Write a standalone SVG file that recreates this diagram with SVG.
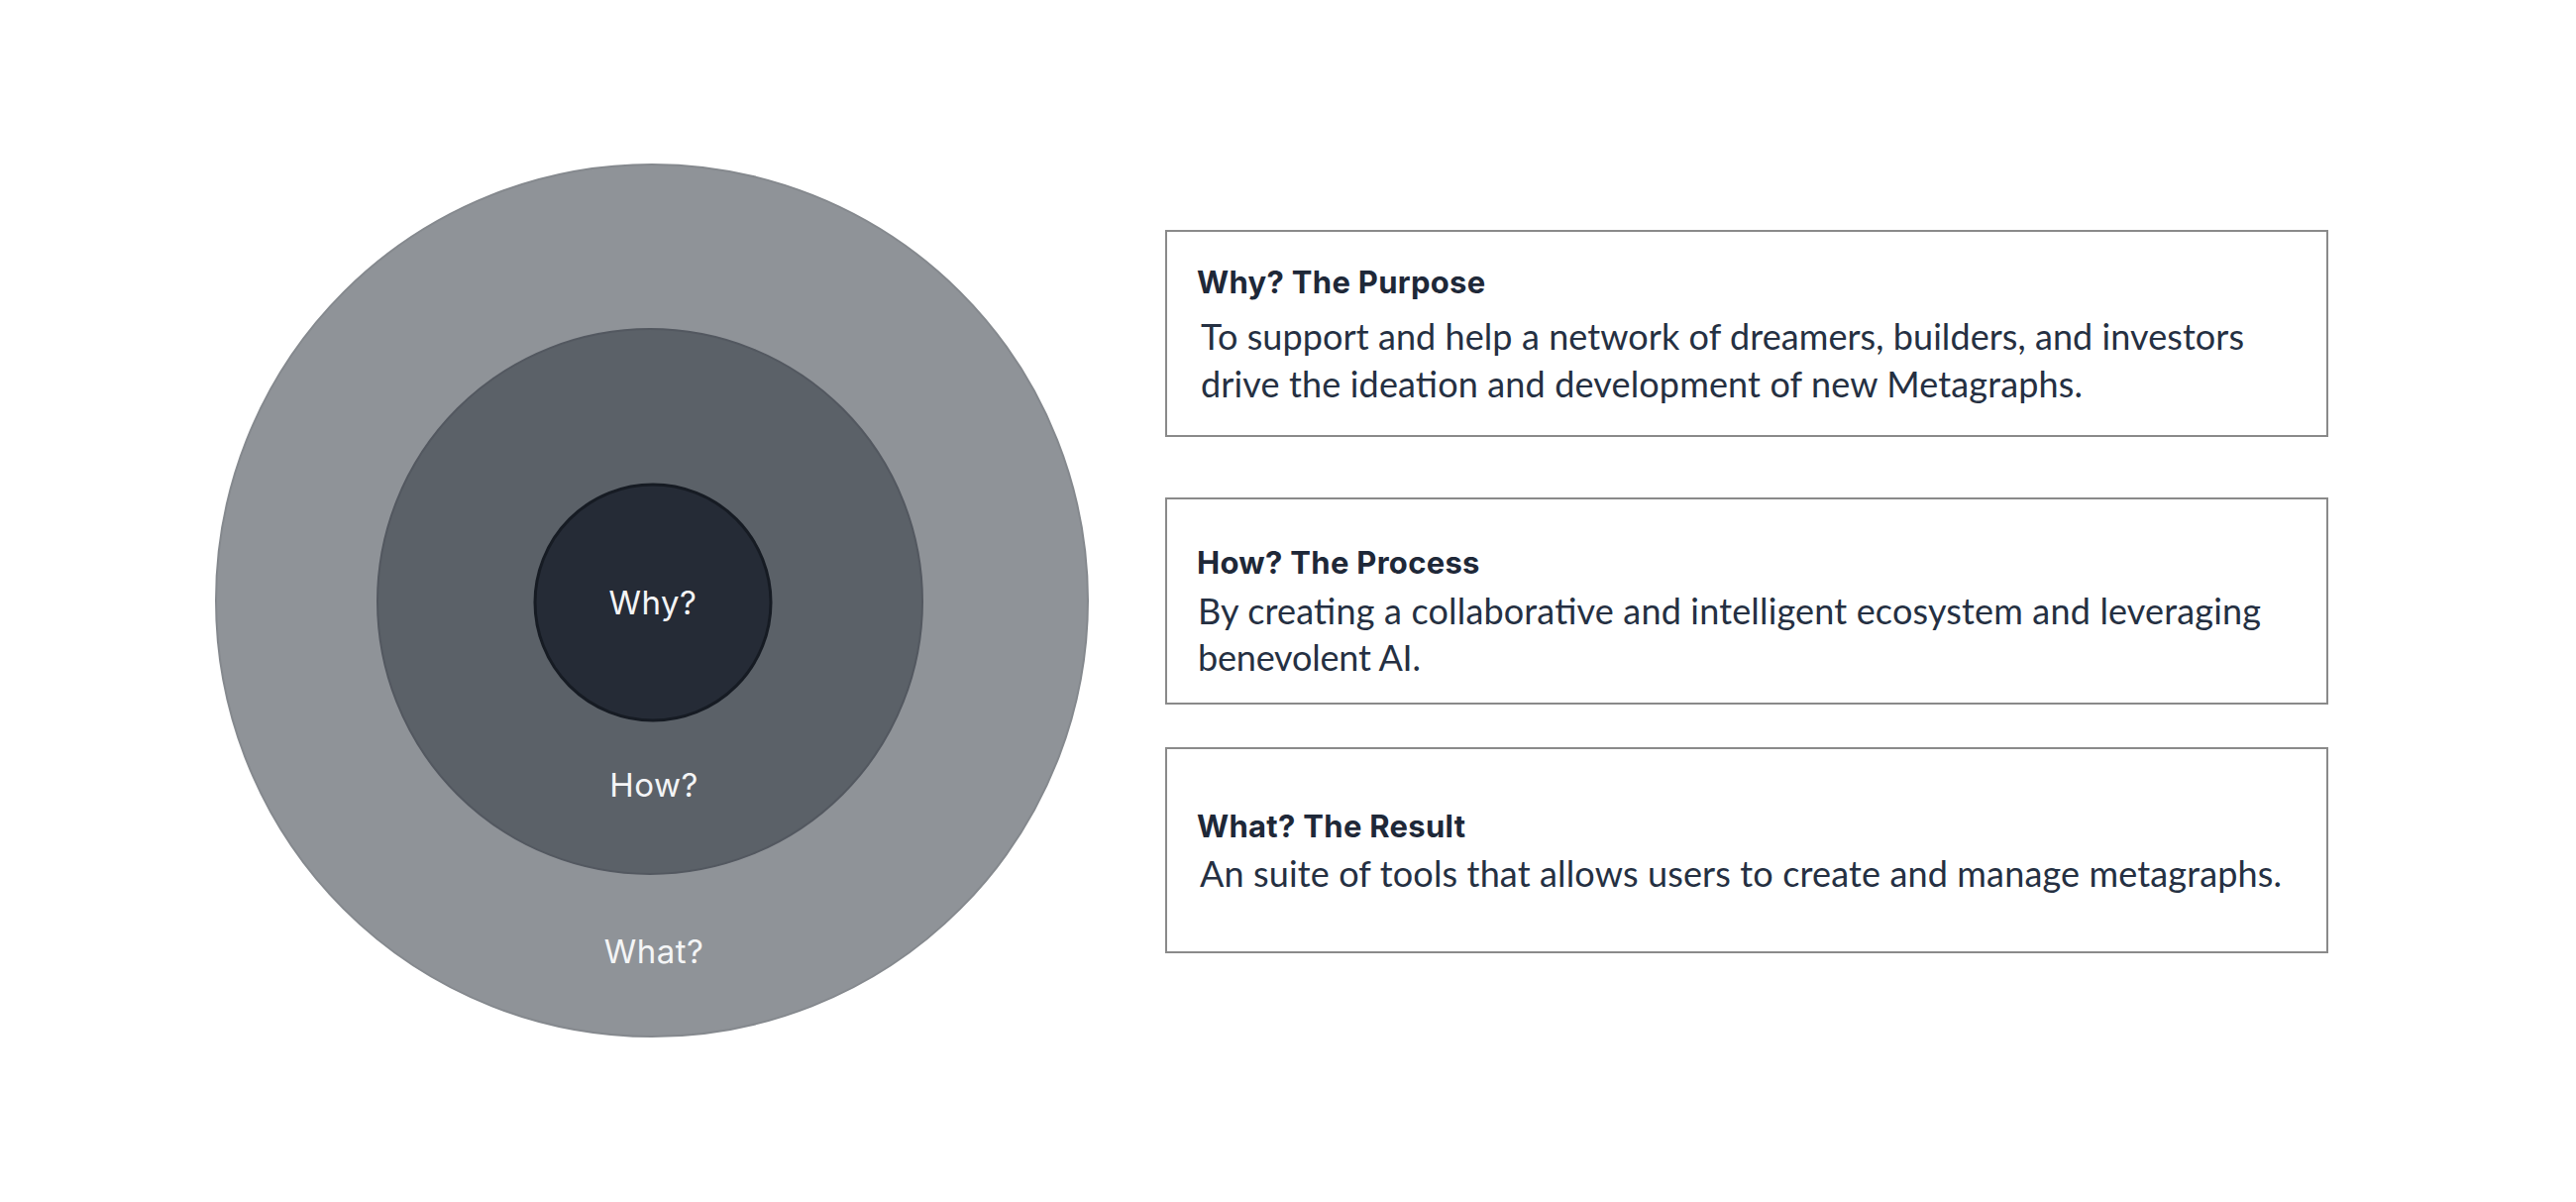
<svg xmlns="http://www.w3.org/2000/svg" width="2600" height="1213" viewBox="0 0 2600 1213">
<style>
.lbl{font-family:Inter,"Open Sans","Liberation Sans",sans-serif;font-size:33px;fill:#f4f5f6;text-anchor:middle;letter-spacing:0.5px}
.box{fill:#ffffff;stroke:#8a8a8a;stroke-width:2}
.ttl{font-family:Inter,"Open Sans","Liberation Sans",sans-serif;font-weight:700;font-size:31px;fill:#1e2838;letter-spacing:0.3px}
.bdy{font-family:Lato,"Open Sans","Liberation Sans",sans-serif;font-size:36px;fill:#253042}
</style>
<rect width="2600" height="1213" fill="#ffffff"/>
<g id="circle-what">
<circle cx="658" cy="606" r="440" fill="#8f9398" stroke="#85898e" stroke-width="2"/>
<text class="lbl" x="660" y="972">What?</text>
</g>
<g id="circle-how">
<circle cx="656" cy="607" r="275" fill="#5b6168" stroke="#535860" stroke-width="2"/>
<text class="lbl" x="660" y="804">How?</text>
</g>
<g id="circle-why">
<circle cx="659" cy="608" r="119" fill="#252b36" stroke="#161b23" stroke-width="3"/>
<text class="lbl" x="659" y="620">Why?</text>
</g>
<g id="connectors"></g>
<g id="box-why">
<rect class="box" x="1177" y="233" width="1172" height="207"/>
<text class="ttl" x="1208" y="296">Why? The Purpose</text>
<text class="bdy" x="1212" y="353" textLength="1053" lengthAdjust="spacing">To support and help a network of dreamers, builders, and investors</text>
<text class="bdy" x="1212" y="401" textLength="890" lengthAdjust="spacing">drive the ideation and development of new Metagraphs.</text>
</g>
<g id="box-how">
<rect class="box" x="1177" y="503" width="1172" height="207"/>
<text class="ttl" x="1208" y="579">How? The Process</text>
<text class="bdy" x="1209" y="630" textLength="1073" lengthAdjust="spacing">By creating a collaborative and intelligent ecosystem and leveraging</text>
<text class="bdy" x="1209" y="677" textLength="225" lengthAdjust="spacing">benevolent AI.</text>
</g>
<g id="box-what">
<rect class="box" x="1177" y="755" width="1172" height="206"/>
<text class="ttl" x="1208" y="845">What? The Result</text>
<text class="bdy" x="1211" y="895" textLength="1092" lengthAdjust="spacing">An suite of tools that allows users to create and manage metagraphs.</text>
</g>
</svg>
